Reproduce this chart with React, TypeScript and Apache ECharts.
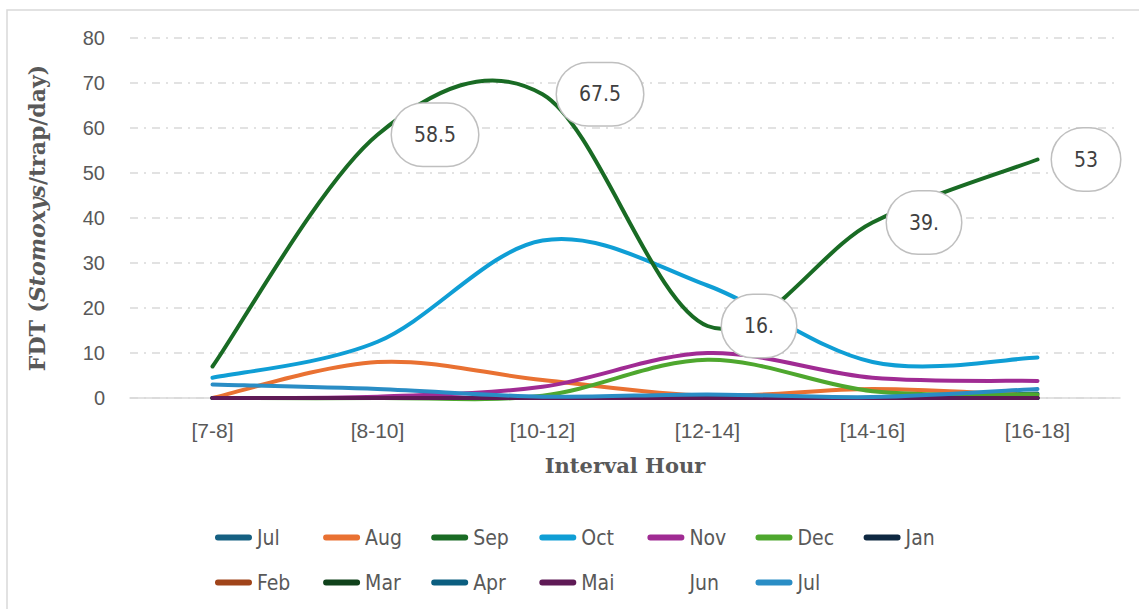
import React, { useEffect, useRef } from "react";
import * as echarts from "echarts";

const categories = ["[7-8]", "[8-10]", "[10-12]", "[12-14]", "[14-16]", "[16-18]"];

const seriesNames = ["Jul", "Aug", "Sep", "Oct", "Nov", "Dec", "Jan", "Feb", "Mar", "Apr", "Mai", "Jun", "Jul (2)"];
const legendLabels = ["Jul", "Aug", "Sep", "Oct", "Nov", "Dec", "Jan", "Feb", "Mar", "Apr", "Mai", "Jun", "Jul"];
const seriesColors = ["#156082", "#E97132", "#196B24", "#0F9ED5", "#A02B93", "#4EA72E", "#0E2841", "#A0441A", "#10421B", "#0B5E80", "#5F1A56", "rgba(0,0,0,0)", "#2A8DC5"];

const julA = [0, 0, 0, 0.5, 0, 1];
const aug = [0, 8, 4, 0.5, 2, 0.5];
const sep = [7, 58.5, 67.5, 16, 39, 53];
const oct = [4.5, 12.5, 35, 25, 8, 9];
const nov = [0, 0.3, 2.5, 10, 4.5, 3.8];
const dec = [0, 0, 0.5, 8.5, 1.5, 0.8];
const jan = [0, 0, 0, 0, 0, 0];
const feb = [0, 0, 0, 0, 0, 0];
const mar = [0, 0, 0, 0, 0, 0];
const apr = [0, 0, 0, 0, 0, 0];
const mai = [0, 0, 0, 0, 0, 0];
const jun: (number | null)[] = [null, null, null, null, null, null];
const julB = [3, 2, 0.3, 0.8, 0.2, 2];

const sepLabels = ["", "58.5", "67.5", "16.", "39.", "53"];

const allData = [julA, aug, sep, oct, nov, dec, jan, feb, mar, apr, mai, jun, julB];

const yTicks = [0, 10, 20, 30, 40, 50, 60, 70, 80];

const narrowFont = "'DejaVu Sans Condensed', 'Liberation Sans Narrow', Roboto, sans-serif";

// Excel-like smoothed curve through the points given by the axis scales
function smoothPath(pts: number[][]): string {
  if (pts.length === 0) return "";
  let d = `M${pts[0][0]},${pts[0][1]}`;
  for (let i = 0; i < pts.length - 1; i++) {
    const p0 = pts[i - 1] || pts[i];
    const p1 = pts[i];
    const p2 = pts[i + 1];
    const p3 = pts[i + 2] || p2;
    const c1x = p1[0] + (p2[0] - p0[0]) / 6;
    const c1y = p1[1] + (p2[1] - p0[1]) / 6;
    const c2x = p2[0] - (p3[0] - p1[0]) / 6;
    const c2y = p2[1] - (p3[1] - p1[1]) / 6;
    d += ` C${c1x},${c1y} ${c2x},${c2y} ${p2[0]},${p2[1]}`;
  }
  return d;
}

export default function App() {
  const ref = useRef<HTMLDivElement>(null);
  useEffect(() => {
    if (!ref.current) return;
    const chart = echarts.init(ref.current, null, { renderer: "svg" });

    const curveSeries = seriesNames.map((name, i) => {
      const values = allData[i];
      return {
        name,
        type: "custom",
        color: seriesColors[i],
        itemStyle: { color: seriesColors[i] },
        data: values.map((v, j) => [j, v]),
        z: name === "Sep" ? 4 : 3,
        renderItem: (params: any, api: any) => {
          if (params.dataIndex !== 0) return null;
          const pts: number[][] = [];
          values.forEach((v, j) => {
            if (v !== null && v !== undefined) pts.push(api.coord([j, v]));
          });
          if (pts.length < 2) return null;
          return {
            type: "path",
            shape: { pathData: smoothPath(pts) },
            style: {
              fill: "none",
              stroke: seriesColors[i],
              lineWidth: 4,
              lineCap: "round",
              lineJoin: "round",
            },
            silent: true,
          };
        },
      };
    });

    const labelSeries = {
      name: "Sep labels",
      type: "line",
      data: sep.map((v, j) =>
        sepLabels[j]
          ? { value: v, label: { show: true, formatter: sepLabels[j] } }
          : { value: v }
      ),
      showSymbol: true,
      symbol: "circle",
      symbolSize: 1,
      itemStyle: { color: "rgba(0,0,0,0)" },
      lineStyle: { width: 0, color: "rgba(0,0,0,0)" },
      z: 10,
      label: {
        show: false,
        position: "right",
        distance: 14,
        fontFamily: narrowFont,
        fontSize: 21,
        color: "#404040",
        backgroundColor: "#ffffff",
        borderColor: "#BFBFBF",
        borderWidth: 1.5,
        borderRadius: 34,
        padding: [22, 22, 19, 22],
      },
    };

    const colX = (k: number) => 210 + 108.1 * k;
    const legends = seriesNames.map((name, i) => {
      const row = i < 7 ? 0 : 1;
      const col = i < 7 ? i : i - 7;
      return {
        show: true,
        selectedMode: false,
        left: colX(col),
        top: row === 0 ? 522 : 567,
        itemWidth: 37,
        itemHeight: 6,
        itemGap: 0,
        icon: "path://M3,0 L35,0 A3,3 0 0 1 35,6 L3,6 A3,3 0 0 1 3,0 Z",
        data: [
          name === "Jun"
            ? { name, itemStyle: { opacity: 0 } }
            : { name, itemStyle: { color: seriesColors[i] } },
        ],
        formatter: () => legendLabels[i],
        textStyle: {
          fontFamily: narrowFont,
          fontSize: 21,
          color: "#595959",
        },
      };
    });

    chart.setOption({
      animation: false,
      backgroundColor: "#ffffff",
      grid: { left: 130, right: 19, top: 38, bottom: 211 },
      graphic: [
        {
          type: "rect",
          shape: { x: 7, y: 10, width: 1200, height: 700 },
          style: { fill: "none", stroke: "#D9D9D9", lineWidth: 1.5 },
          silent: true,
        },
      ],
      legend: legends,
      xAxis: {
        type: "category",
        data: categories,
        boundaryGap: true,
        axisTick: { show: false },
        axisLine: { show: true, lineStyle: { color: "#D9D9D9", width: 1.5 } },
        axisLabel: {
          margin: 22,
          fontFamily: "Liberation Sans, Arial, sans-serif",
          fontSize: 21,
          color: "#595959",
        },
        name: "Interval Hour",
        nameLocation: "middle",
        nameGap: 57,
        nameTextStyle: {
          fontFamily: "DejaVu Serif, Liberation Serif, serif",
          fontWeight: "bold",
          fontSize: 21,
          color: "#595959",
        },
      },
      yAxis: {
        type: "value",
        min: yTicks[0],
        max: yTicks[yTicks.length - 1],
        interval: 10,
        axisLine: { show: false },
        axisTick: { show: false },
        splitLine: {
          show: true,
          lineStyle: { color: "#D9D9D9", width: 1.5, type: [8, 6, 2, 6] },
        },
        axisLabel: {
          margin: 25,
          fontFamily: "Liberation Sans, Arial, sans-serif",
          fontSize: 20,
          color: "#595959",
        },
        name: "{b|FDT (}{i|Stomoxys}{b|/trap/day)}",
        nameLocation: "middle",
        nameGap: 82,
        nameRotate: 90,
        nameTextStyle: {
          rich: {
            b: {
              fontFamily: "DejaVu Serif, Liberation Serif, serif",
              fontWeight: "bold",
              fontSize: 22,
              color: "#595959",
            },
            i: {
              fontFamily: "DejaVu Serif, Liberation Serif, serif",
              fontWeight: "bold",
              fontStyle: "italic",
              fontSize: 22,
              color: "#595959",
            },
          },
        },
      },
      series: [...curveSeries, labelSeries],
    });

    return () => chart.dispose();
  }, []);

  return (
    <div
      ref={ref}
      style={{ position: "fixed", left: 0, top: 0, width: 1139, height: 609, background: "#fff" }}
    />
  );
}
